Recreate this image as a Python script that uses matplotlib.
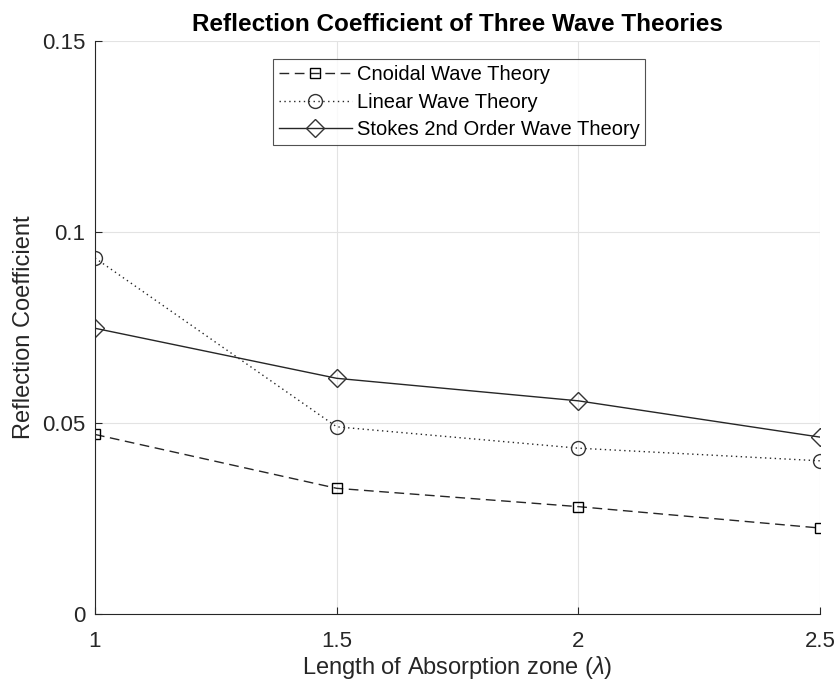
import matplotlib.pyplot as plt
import numpy as np

plt.rcParams['font.family'] = ['Liberation Sans', 'DejaVu Sans']
plt.rcParams['mathtext.fontset'] = 'custom'
plt.rcParams['mathtext.it'] = 'Liberation Sans:italic'
plt.rcParams['mathtext.rm'] = 'Liberation Sans'

# absorption zone lengths (in wavelengths)
zone_len = [1, 1.5, 2, 2.5]
cnoidal = [0.0470, 0.0329, 0.0281, 0.0225]
linear = [0.0932, 0.0490, 0.0434, 0.0401]
stokes = [0.0748, 0.0617, 0.0558, 0.0463]

x_ticks = [1, 1.5, 2, 2.5]
x_tick_labels = ['1', '1.5', '2', '2.5']
y_ticks = [0, 0.05, 0.1, 0.15]
y_tick_labels = ['0', '0.05', '0.1', '0.15']

fig = plt.figure(figsize=(8.39, 6.86), dpi=100)
ax = fig.add_axes([0.1132, 0.105, 0.8642, 0.8352])

ax.plot(zone_len, cnoidal, color='#262626', ls=(0, (7, 4)), lw=1.0,
        marker='s', ms=7, mfc='none', mec='black', mew=1.0,
        label='Cnoidal Wave Theory')
ax.plot(zone_len, linear, color='#262626', ls=(0, (1, 2.5)), lw=1.0,
        marker='o', ms=10, mfc='none', mec='#333333', mew=1.0,
        label='Linear Wave Theory')
ax.plot(zone_len, stokes, color='#262626', ls='-', lw=1.0,
        marker='D', ms=9, mfc='none', mec='#333333', mew=1.0,
        label='Stokes 2nd Order Wave Theory')

ax.set_xlim(1, 2.5)
ax.set_ylim(0, 0.15)
ax.set_xticks(x_ticks)
ax.set_xticklabels(x_tick_labels)
ax.set_yticks(y_ticks)
ax.set_yticklabels(y_tick_labels)

ax.grid(True, color='#e3e3e3', lw=0.8)
ax.set_axisbelow(True)
for side in ['top', 'right']:
    ax.spines[side].set_visible(False)
for side in ['left', 'bottom']:
    ax.spines[side].set_color('#262626')
    ax.spines[side].set_linewidth(0.8)
ax.tick_params(direction='in', length=5, width=0.8, colors='#262626',
               labelsize=16)
ax.tick_params(axis='x', pad=12)
ax.tick_params(axis='y', pad=7)

ax.set_title('Reflection Coefficient of Three Wave Theories',
             fontsize=17.5, fontweight='bold', pad=7)
ax.set_xlabel(r'Length of Absorption zone ($\lambda$)', fontsize=17,
              color='#262626', labelpad=2)
ax.set_ylabel('Reflection Coefficient', fontsize=17, color='#262626',
              labelpad=5)

leg = ax.legend(loc='upper left', bbox_to_anchor=(0.2455, 0.9686),
                fontsize=14.5, frameon=True, fancybox=False,
                borderpad=0.3, labelspacing=0.43, handlelength=3.6,
                handletextpad=0.25, borderaxespad=0)
leg.get_frame().set_edgecolor('#262626')
leg.get_frame().set_linewidth(0.8)

plt.savefig('out.png', dpi=100)
